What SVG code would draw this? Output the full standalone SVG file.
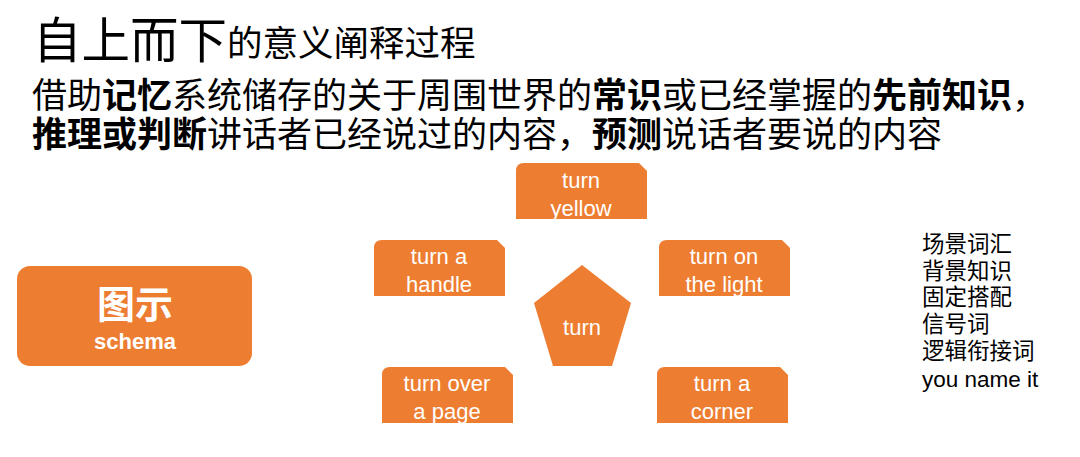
<svg xmlns="http://www.w3.org/2000/svg" width="1080" height="457" viewBox="0 0 1080 457">
<style>
.cjk{font-family:"Noto Sans CJK SC","Liberation Sans",sans-serif;fill:#000}
.b{font-weight:bold}
.shape{fill:#ED7D31}
.lbl{font-family:"Liberation Sans",Arial,sans-serif;font-size:22px;fill:#fff;text-anchor:middle}
.list{font-family:"Liberation Sans","Noto Sans CJK SC",sans-serif;font-size:22.5px;fill:#000}
</style>
<defs>
<path id="box" d="M0,56 V8 Q0,0 8,0 H123 L131,8 V56 Z"/>
</defs>
<rect width="1080" height="457" fill="#fff"/>
<g id="title">
<text class="cjk" x="33" y="58" font-size="48.5">自上而下<tspan font-size="35.5" dy="-2">的意义阐释过程</tspan></text>
<text class="cjk" x="32" y="108" font-size="35">借助<tspan class="b">记忆</tspan>系统储存的关于周围世界的<tspan class="b">常识</tspan>或已经掌握的<tspan class="b">先前知识</tspan>，</text>
<text class="cjk" x="32" y="147" font-size="35"><tspan class="b">推理或判断</tspan>讲话者已经说过的内容，<tspan class="b">预测</tspan>说话者要说的内容</text>
</g>
<g id="schema">
<rect class="shape" x="17" y="266" width="235" height="100" rx="13"/>
<text x="135" y="318" text-anchor="middle" font-family="Noto Sans CJK SC,sans-serif" font-weight="bold" font-size="38" fill="#fff">图示</text>
<text x="135" y="349" text-anchor="middle" font-family="Liberation Sans,Arial,sans-serif" font-weight="bold" font-size="22" fill="#fff">schema</text>
</g>
<g id="connectors"></g>
<g id="turn">
<polygon class="shape" points="582,265 631,303 612,366 553,366 534,303"/>
<text class="lbl" x="582" y="335">turn</text>
</g>
<g id="turn-yellow">
<use href="#box" class="shape" x="516" y="163"/>
<text class="lbl" x="581" y="188">turn</text>
<text class="lbl" x="581" y="216">yellow</text>
</g>
<g id="turn-handle">
<use href="#box" class="shape" x="374" y="240"/>
<text class="lbl" x="439" y="264">turn a</text>
<text class="lbl" x="439" y="292">handle</text>
</g>
<g id="turn-light">
<use href="#box" class="shape" x="659" y="240"/>
<text class="lbl" x="724" y="264">turn on</text>
<text class="lbl" x="724" y="292">the light</text>
</g>
<g id="turn-page">
<use href="#box" class="shape" x="382" y="367"/>
<text class="lbl" x="447" y="391">turn over</text>
<text class="lbl" x="447" y="419">a page</text>
</g>
<g id="turn-corner">
<use href="#box" class="shape" x="657" y="367"/>
<text class="lbl" x="722" y="391">turn a</text>
<text class="lbl" x="722" y="419">corner</text>
</g>
<g id="list">
<text class="list" x="922" y="252">场景词汇</text>
<text class="list" x="922" y="279">背景知识</text>
<text class="list" x="922" y="305">固定搭配</text>
<text class="list" x="922" y="332">信号词</text>
<text class="list" x="922" y="359">逻辑衔接词</text>
<text class="list" x="922" y="387">you name it</text>
</g>
</svg>
